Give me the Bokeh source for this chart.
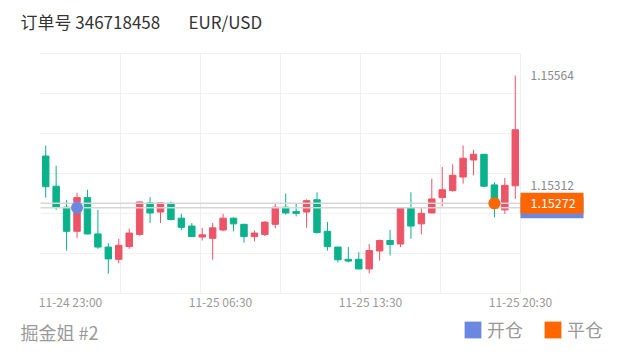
import numpy as np
from bokeh.plotting import figure
from bokeh.models import ColumnDataSource, Label, Legend, LegendItem
from bokeh.core.properties import value
from bokeh.embed import file_html
from bokeh.resources import INLINE

# ---------------- data ----------------
opens = [1.15380, 1.15311, 1.15263, 1.15208, 1.15285, 1.15202, 1.15172, 1.15144, 1.15173, 1.15201,
         1.15273, 1.15252, 1.15272, 1.15238, 1.15220, 1.15195, 1.15192, 1.15211, 1.15238, 1.15224,
         1.15196, 1.15201, 1.15224, 1.15263, 1.15253, 1.15252, 1.15280, 1.15208, 1.15172, 1.15144,
         1.15144, 1.15122, 1.15163, 1.15187, 1.15179, 1.15261, 1.15225, 1.15250, 1.15285, 1.15301,
         1.15332, 1.15371, 1.15384, 1.15314, 1.15257, 1.15312]
highs = [1.15404, 1.15358, 1.15280, 1.15296, 1.15303, 1.15257, 1.15181, 1.15191, 1.15214, 1.15276,
         1.15286, 1.15275, 1.15276, 1.15248, 1.15227, 1.15216, 1.15227, 1.15248, 1.15240, 1.15225,
         1.15210, 1.15231, 1.15272, 1.15294, 1.15272, 1.15281, 1.15297, 1.15229, 1.15173, 1.15172,
         1.15160, 1.15179, 1.15189, 1.15211, 1.15261, 1.15297, 1.15263, 1.15328, 1.15355, 1.15361,
         1.15404, 1.15394, 1.15385, 1.15320, 1.15330, 1.15564]
lows = [1.15285, 1.15257, 1.15164, 1.15193, 1.15201, 1.15168, 1.15111, 1.15135, 1.15168, 1.15198,
        1.15227, 1.15227, 1.15233, 1.15211, 1.15195, 1.15187, 1.15143, 1.15208, 1.15208, 1.15182,
        1.15185, 1.15197, 1.15215, 1.15246, 1.15242, 1.15216, 1.15203, 1.15164, 1.15137, 1.15137,
        1.15121, 1.15112, 1.15141, 1.15153, 1.15172, 1.15191, 1.15201, 1.15249, 1.15265, 1.15299,
        1.15317, 1.15336, 1.15309, 1.15240, 1.15248, 1.15282]
closes = [1.15310, 1.15263, 1.15208, 1.15285, 1.15202, 1.15172, 1.15145, 1.15176, 1.15204, 1.15275,
          1.15250, 1.15273, 1.15235, 1.15217, 1.15196, 1.15200, 1.15216, 1.15238, 1.15225, 1.15196,
          1.15204, 1.15229, 1.15263, 1.15250, 1.15249, 1.15278, 1.15205, 1.15173, 1.15143, 1.15140,
          1.15122, 1.15164, 1.15187, 1.15178, 1.15261, 1.15220, 1.15249, 1.15282, 1.15303, 1.15336,
          1.15375, 1.15384, 1.15311, 1.15260, 1.15313, 1.15440]

time_labels = ["11-24 23:00", "11-25 06:30", "11-25 13:30", "11-25 20:30"]
price_axis_labels = [1.15564, 1.15312]
order_id = "346718458"
symbol = "EUR/USD"
account = "掘金姐 #2"
open_index = 3
open_price = 1.15262
close_index = 43
close_price = 1.15272
legend_labels = ["开仓", "平仓"]

# ---------------- style / layout ----------------
W, H = 620, 352
FL, FR, FT, FB = 40, 520, 53, 293          # chart area in canvas pixels
RED = "#EC5467"
GREEN = "#0AB28C"
BLUE = "#6A88E2"
ORANGE = "#FF6600"
FONT = "Noto Sans CJK SC"

n = len(opens)
X0, X1 = -0.5, n - 0.5                       # candle band range
Y0, Y1 = 1.150659, 1.156143                  # visible price window


def dx(px):
    return X0 + (px - FL) * (X1 - X0) / (FR - FL)


def dy(py):
    return Y0 + (FB - py) * (Y1 - Y0) / (FB - FT)


p = figure(width=W, height=H, x_range=(dx(0), dx(W)), y_range=(dy(H), dy(0)),
           output_backend="svg", toolbar_location=None,
           x_axis_location=None, y_axis_location=None, min_border=0,
           outline_line_color=None, background_fill_color="white",
           border_fill_color="white")
p.xgrid.visible = False
p.ygrid.visible = False

# grid lines limited to the chart area
gx = [float(v) for v in np.linspace(X0, X1, 7)[1:]]
gy = [float(v) for v in np.linspace(Y0, Y1, 7)]
p.segment(x0=gx, x1=gx, y0=[Y0] * len(gx), y1=[Y1] * len(gx), line_color="#efefef", line_width=1)
p.segment(x0=[X0] * len(gy), x1=[X1] * len(gy), y0=gy, y1=gy, line_color="#f1f1f1", line_width=1)

# time tick labels
tick_pos = [X0 + (X1 - X0) * f for f in (1 / 16, 6 / 16, 11 / 16, 1.0)]
p.text(x=tick_pos, y=[dy(301)] * len(tick_pos), text=time_labels,
       text_font=value(FONT), text_font_size="12px", text_color="#999999",
       text_align="center", text_baseline="middle")

# price labels on the right
p.text(x=[dx(530)] * len(price_axis_labels), y=price_axis_labels,
       text=[f"{v:.5f}" for v in price_axis_labels], text_font=value(FONT),
       text_font_size="12px", text_color="#888888", text_align="left",
       text_baseline="middle")

# candles
colors = [RED if c >= o else GREEN for o, c in zip(opens, closes)]
src = ColumnDataSource(dict(
    x=list(range(n)), o=opens, h=highs, l=lows, c=closes,
    top=[max(o, c) for o, c in zip(opens, closes)],
    bottom=[min(o, c) for o, c in zip(opens, closes)],
    color=colors))
p.segment(x0="x", y0="h", x1="x", y1="l", line_color="color", line_width=1, source=src)
p.vbar(x="x", width=0.62, top="top", bottom="bottom", fill_color="color",
       line_color="color", line_width=1, source=src)

# open / close price lines across the chart area
p.segment(x0=[X0, X0], x1=[X1, X1], y0=[open_price, close_price], y1=[open_price, close_price],
          line_color="#d6d6d6", line_width=1.5)

# markers
p.scatter(x=[open_index], y=[open_price], size=12, fill_color=BLUE, line_color=None)
p.scatter(x=[close_index], y=[close_price], size=12, fill_color=ORANGE, line_color=None)

# price tags (right of chart area)
tag_renderers = []
for price, col in ((open_price, BLUE), (close_price, ORANGE)):
    r = p.rect(x=[dx(FR + 31.5)], y=[price], width=63, height=21,
               width_units="screen", height_units="screen",
               fill_color=col, line_color=None)
    tag_renderers.append(r)
    p.text(x=[dx(530)], y=[price], text=[f"{price:.5f}"], text_color="white",
           text_font=value(FONT), text_font_size="12.5px", text_align="left",
           text_baseline="middle")

# title and footer texts
p.add_layout(Label(x=dx(20), y=dy(21), text=f"订单号 {order_id}", text_font=FONT,
                   text_font_size="17px", text_color="#333333", text_baseline="middle"))
p.add_layout(Label(x=dx(188), y=dy(21), text=symbol, text_font=FONT,
                   text_font_size="17px", text_color="#333333", text_baseline="middle"))
p.add_layout(Label(x=dx(20), y=dy(331), text=account, text_font=FONT,
                   text_font_size="18px", text_color="#999999", text_baseline="middle"))

# legend
legend = Legend(items=[LegendItem(label=legend_labels[0], renderers=[tag_renderers[0]]),
                       LegendItem(label=legend_labels[1], renderers=[tag_renderers[1]])],
                orientation="horizontal", location=(462, 10),
                glyph_width=21, glyph_height=21, label_height=17,
                label_standoff=4, spacing=19, padding=0, margin=0,
                label_text_font=FONT, label_text_font_size="18px",
                label_text_color="#999999", background_fill_alpha=0,
                border_line_color=None)
p.add_layout(legend)

open("out.html", "w").write(file_html(p, INLINE))
